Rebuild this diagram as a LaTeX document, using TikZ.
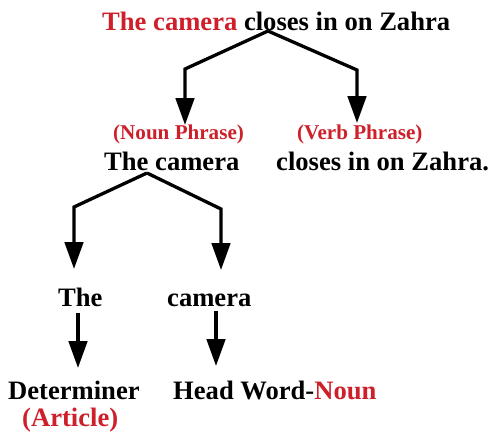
\documentclass[tikz,border=0pt]{standalone}
\usepackage{fontspec}
\setmainfont{Liberation Serif}
\usetikzlibrary{arrows.meta}
\definecolor{tred}{RGB}{205,32,42}
\begin{document}
\begin{tikzpicture}[x=1pt,y=-1pt,
  word/.style={inner sep=0pt,anchor=base west,font=\fontsize{26.6}{31}\bfseries\selectfont},
  tag/.style={inner sep=0pt,anchor=base west,text=tred,font=\fontsize{21.1}{24}\bfseries\selectfont},
  conn/.style={line width=3.3pt,-{Triangle[length=27pt,width=18.5pt]}}]
\useasboundingbox (0,0) rectangle (490,434);
% texts
\node[word] (top) at (102,30.5) {{\color{tred}The camera} closes in on Zahra};
\node[tag] (np) at (113,139) {(Noun Phrase)};
\node[tag] (vp) at (297,139) {(Verb Phrase)};
\node[word] (tc) at (104,170) {The camera};
\node[word] (cl) at (276,170) {closes in on Zahra.};
\node[word] (the) at (58,306.5) {The};
\node[word] (cam) at (167,306.5) {camera};
\node[word] (det) at (8,399) {Determiner};
\node[word,text=tred] (art) at (22,426) {(Article)};
\node[word] (hw) at (173,399) {Head Word-{\color{tred}Noun}};
% connector points
\coordinate (a1) at (268,31);
\coordinate (l1) at (185,69);
\coordinate (r1) at (357,70);
\coordinate (a2) at (147,173);
\coordinate (l2) at (74,207);
\coordinate (r2) at (221,209);
% connectors
\draw[conn] (a1) -- (l1) -- (l1 |- 0,125);
\draw[conn] (a1) -- (r1) -- (r1 |- 0,123);
\draw[conn] (a2) -- (l2) -- (l2 |- 0,269);
\draw[conn] (a2) -- (r2) -- (r2 |- 0,270);
\draw[conn] (the.south -| 78,0) ++(0,6) -- (78,368);
\draw[conn] (cam.south -| 216,0) ++(0,4) -- (216,366);
\end{tikzpicture}
\end{document}
